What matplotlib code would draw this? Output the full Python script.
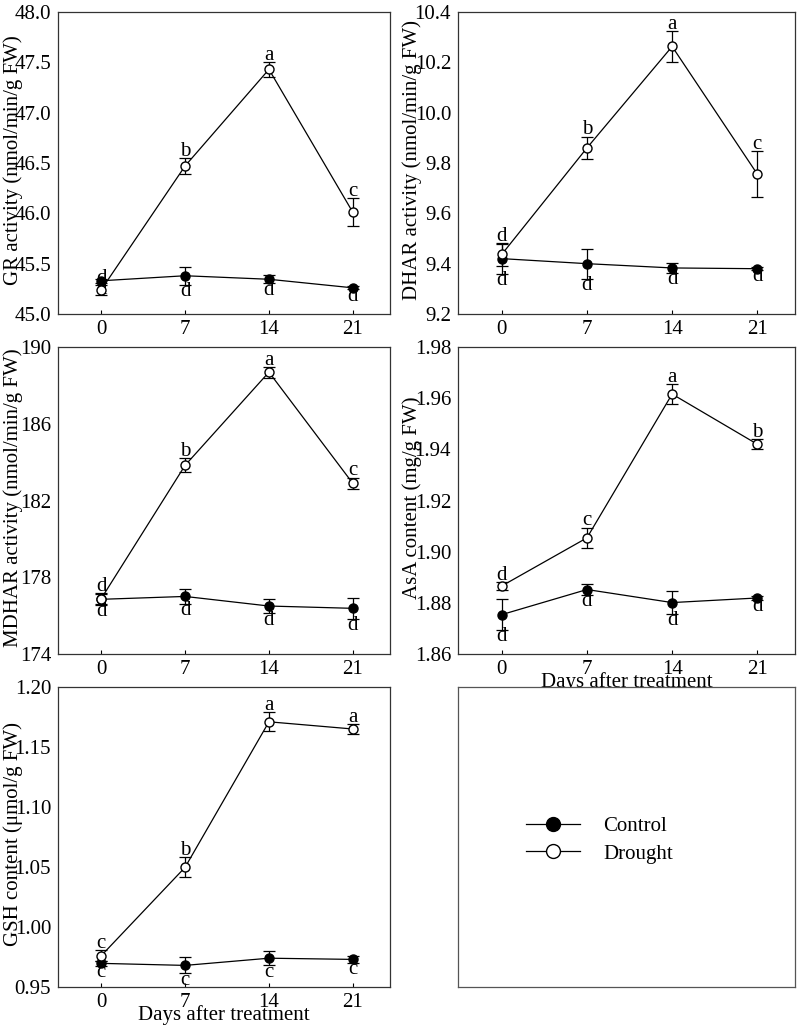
import matplotlib.pyplot as plt

plt.rcParams['font.family'] = ['Liberation Serif', 'DejaVu Serif']

days = [0, 7, 14, 21]

# GR
gr_ctrl = [45.33, 45.38, 45.345, 45.26]
gr_ctrl_err = [0.02, 0.09, 0.04, 0.015]
gr_dr = [45.24, 46.47, 47.43, 46.01]
gr_dr_err = [0.05, 0.075, 0.075, 0.14]
gr_ctrl_let = ['d', 'd', 'd', 'd']
gr_dr_let = ['d', 'b', 'a', 'c']

# DHAR
dhar_ctrl = [9.42, 9.40, 9.383, 9.38]
dhar_ctrl_err = [0.06, 0.06, 0.02, 0.006]
dhar_dr = [9.437, 9.86, 10.263, 9.756]
dhar_dr_err = [0.045, 0.045, 0.06, 0.09]
dhar_ctrl_let = ['d', 'd', 'd', 'd']
dhar_dr_let = ['d', 'b', 'a', 'c']

# MDHAR
mdhar_ctrl = [176.85, 177.0, 176.5, 176.38]
mdhar_ctrl_err = [0.3, 0.4, 0.38, 0.54]
mdhar_dr = [176.88, 183.83, 188.69, 182.89]
mdhar_dr_err = [0.3, 0.36, 0.28, 0.3]
mdhar_ctrl_let = ['d', 'd', 'd', 'd']
mdhar_dr_let = ['d', 'b', 'a', 'c']

# AsA
asa_ctrl = [1.8754, 1.8852, 1.8801, 1.8819]
asa_ctrl_err = [0.006, 0.002, 0.0045, 0.0008]
asa_dr = [1.8866, 1.9054, 1.9616, 1.942]
asa_dr_err = [0.0015, 0.004, 0.004, 0.002]
asa_ctrl_let = ['d', 'd', 'd', 'd']
asa_dr_let = ['d', 'c', 'a', 'b']

# GSH
gsh_ctrl = [0.9697, 0.968, 0.974, 0.973]
gsh_ctrl_err = [0.002, 0.0067, 0.006, 0.003]
gsh_dr = [0.976, 1.0497, 1.171, 1.165]
gsh_dr_err = [0.0045, 0.0083, 0.008, 0.004]
gsh_ctrl_let = ['c', 'c', 'c', 'c']
gsh_dr_let = ['c', 'b', 'a', 'a']

W, H = 800, 1026
fig = plt.figure(figsize=(W / 100, H / 100), dpi=100)


def box(l, t, r, b):
    return [l / W, 1 - b / H, (r - l) / W, (b - t) / H]


FS = 15


def panel(rect, ctrl, ce, dr, de, cl, dl, ylim, yticks, fmt, ylabel, labx, xlabel=False):
    ax = fig.add_axes(rect)
    ax.errorbar(days, ctrl, yerr=ce, color='black', lw=0.9, marker='o', ms=6.5,
                mfc='black', mec='black', capsize=4, elinewidth=0.9, capthick=0.9, zorder=3)
    ax.errorbar(days, dr, yerr=de, color='black', lw=0.9, marker='o', ms=6.5,
                mfc='white', mec='black', capsize=4, elinewidth=0.9, capthick=0.9, zorder=4)
    for x, y, e, t in zip(days, dr, de, dl):
        ax.annotate(t, (x, y + e), xytext=(0, -2), textcoords='offset points',
                    ha='center', va='bottom', fontsize=FS)
    for x, y, e, t in zip(days, ctrl, ce, cl):
        ax.annotate(t, (x, y - e), xytext=(0, 2), textcoords='offset points',
                    ha='center', va='top', fontsize=FS)
    ax.set_xlim(-3.6, 24.1)
    ax.set_ylim(*ylim)
    ax.set_xticks(days)
    ax.set_yticks(yticks)
    ax.set_yticklabels([fmt.format(v) for v in yticks])
    ax.tick_params(axis='x', direction='in', length=3, width=0.8, labelsize=FS, pad=4)
    ax.tick_params(axis='y', direction='in', length=0, labelsize=FS, pad=5)
    ax.set_ylabel(ylabel, fontsize=FS)
    ax.yaxis.set_label_coords(labx, 0.51)
    if xlabel:
        ax.set_xlabel('Days after treatment', fontsize=FS, labelpad=-5)
    for s in ax.spines.values():
        s.set_linewidth(0.9)
        s.set_color('#333333')
    return ax


panel(box(58, 12, 390, 314), gr_ctrl, gr_ctrl_err, gr_dr, gr_dr_err, gr_ctrl_let, gr_dr_let,
      (45.0, 48.0), [45.0, 45.5, 46.0, 46.5, 47.0, 47.5, 48.0], '{:.1f}',
      'GR activity (nmol/min/g FW)', -0.106)
panel(box(458, 12, 795, 314), dhar_ctrl, dhar_ctrl_err, dhar_dr, dhar_dr_err, dhar_ctrl_let, dhar_dr_let,
      (9.2, 10.4), [9.2, 9.4, 9.6, 9.8, 10.0, 10.2, 10.4], '{:.1f}',
      'DHAR activity (nmol/min/g FW)', -0.107)
panel(box(58, 347, 390, 654), mdhar_ctrl, mdhar_ctrl_err, mdhar_dr, mdhar_dr_err, mdhar_ctrl_let, mdhar_dr_let,
      (174, 190), [174, 178, 182, 186, 190], '{:.0f}',
      'MDHAR activity (nmol/min/g FW)', -0.106)
panel(box(458, 347, 795, 654), asa_ctrl, asa_ctrl_err, asa_dr, asa_dr_err, asa_ctrl_let, asa_dr_let,
      (1.86, 1.98), [1.86, 1.88, 1.90, 1.92, 1.94, 1.96, 1.98], '{:.2f}',
      'AsA content (mg/g FW)', -0.107, xlabel=True)
panel(box(58, 687, 390, 987), gsh_ctrl, gsh_ctrl_err, gsh_dr, gsh_dr_err, gsh_ctrl_let, gsh_dr_let,
      (0.95, 1.20), [0.95, 1.00, 1.05, 1.10, 1.15, 1.20], '{:.2f}',
      'GSH content (μmol/g FW)', -0.106, xlabel=True)

# legend panel
axl = fig.add_axes(box(458, 687, 795, 987))
axl.set_xticks([])
axl.set_yticks([])
for s in axl.spines.values():
    s.set_linewidth(0.9)
    s.set_color('#555555')
h1, = axl.plot([], [], color='black', lw=0.9, marker='o', ms=10, mfc='black', mec='black')
h2, = axl.plot([], [], color='black', lw=0.9, marker='o', ms=10, mfc='white', mec='black')
axl.legend([h1, h2], ['Control', 'Drought'], loc='center', bbox_to_anchor=(0.42, 0.49),
           frameon=False, fontsize=FS, handlelength=2.6, handletextpad=1.1, labelspacing=0.4)

fig.savefig('out.png', dpi=100)
